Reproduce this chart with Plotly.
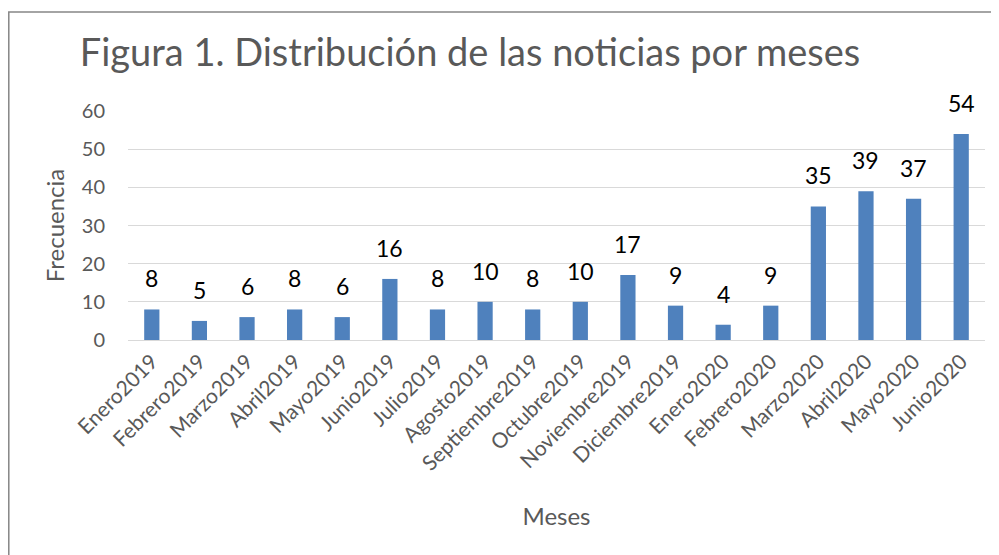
import plotly.graph_objects as go

categories = ["Enero2019", "Febrero2019", "Marzo2019", "Abril2019", "Mayo2019", "Junio2019",
              "Julio2019", "Agosto2019", "Septiembre2019", "Octubre2019", "Noviembre2019",
              "Diciembre2019", "Enero2020", "Febrero2020", "Marzo2020", "Abril2020",
              "Mayo2020", "Junio2020"]
values = [8, 5, 6, 8, 6, 16, 8, 10, 8, 10, 17, 9, 4, 9, 35, 39, 37, 54]
y_ticks = [0, 10, 20, 30, 40, 50, 60]

FONT = "Lato"
GRAY = "#595959"

fig = go.Figure(go.Bar(
    x=categories, y=values,
    marker=dict(color="#4F81BD", line=dict(color="#4F81BD", width=0)),
    cliponaxis=False,
))

for c, v in zip(categories, values):
    fig.add_annotation(x=c, y=v, text=str(v), showarrow=False,
                       xanchor="center", yanchor="bottom", yshift=15,
                       font=dict(family=FONT, size=23, color="#000000"))

fig.update_layout(
    width=999, height=555,
    margin=dict(l=120, r=22, t=103, b=223),
    paper_bgcolor="white", plot_bgcolor="white",
    bargap=0.68,
    showlegend=False,
    title=dict(text="Figura 1. Distribución de las noticias por meses",
               x=0.4625, xanchor="center", y=0.920, yanchor="middle",
               xref="container", yref="container",
               font=dict(family=FONT, size=38, color=GRAY)),
    font=dict(family=FONT, color=GRAY),
)

fig.update_xaxes(
    automargin=False,
    tickangle=-45, tickfont=dict(family=FONT, size=21, color=GRAY),
    showgrid=False, showline=True, linecolor="#d9d9d9", linewidth=1,
    ticks="", title=dict(text="Meses", font=dict(family=FONT, size=24, color=GRAY), standoff=34),
)
fig.update_yaxes(
    automargin=False,
    range=[0, 60], tickvals=y_ticks, tickfont=dict(family=FONT, size=20, color=GRAY),
    showgrid=True, gridcolor="#d9d9d9", gridwidth=1, zeroline=False,
    showline=False, ticks="", ticklen=0, ticklabelstandoff=22,
    title=dict(text="Frecuencia", font=dict(family=FONT, size=24, color=GRAY), standoff=10),
)

fig.add_shape(type="rect", xref="paper", yref="paper",
              x0=-0.1391, x1=1.5, y0=-2.0, y1=1.4323,
              line=dict(color="#868686", width=1.5), fillcolor="rgba(0,0,0,0)", layer="below")

fig.write_html("out.html")
